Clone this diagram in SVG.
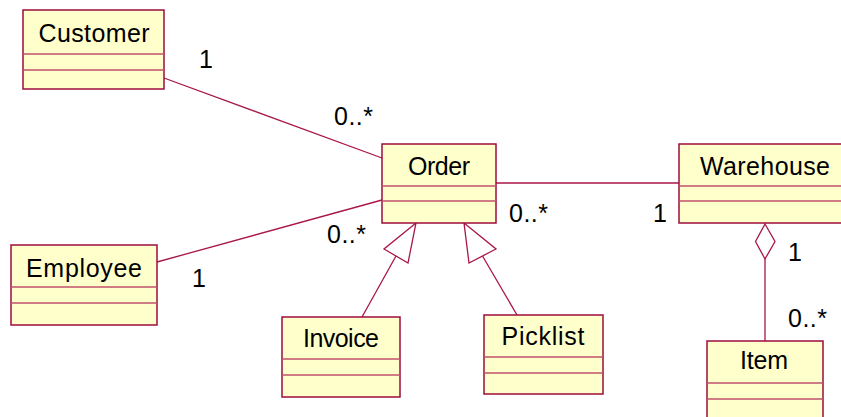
<svg xmlns="http://www.w3.org/2000/svg" width="841" height="417" viewBox="0 0 841 417">
<style>
.box{fill:#FFFFCC;stroke:#9E0B3E;stroke-width:1.5}
.div{stroke:#C0506E;stroke-width:1.5;fill:none}
.name{font-family:"Liberation Sans",Arial,sans-serif;font-size:25px;fill:#000;text-anchor:middle}
.lbl{font-family:"Liberation Sans",Arial,sans-serif;font-size:25px;fill:#000}
.conn{stroke:#A8164A;stroke-width:1.3;fill:none}
.head{stroke:#A8164A;stroke-width:1.3;fill:#fff}
</style>
<rect width="841" height="417" fill="#fff"/>
<g id="connectors">
<line class="conn" x1="164" y1="78" x2="382" y2="158"/>
<line class="conn" x1="157" y1="262" x2="382" y2="200"/>
<line class="conn" x1="496" y1="183" x2="679" y2="183"/>
<line class="conn" x1="396" y1="256" x2="362" y2="317"/>
<polygon class="head" points="416,223 384,249 408,263"/>
<line class="conn" x1="482.5" y1="256" x2="517" y2="315"/>
<polygon class="head" points="464,223 469,263 496,249"/>
<line class="conn" x1="765" y1="259" x2="765" y2="341"/>
<polygon class="head" points="765,224 755.5,241.5 765,259 775,241.5"/>
<text class="lbl" x="199" y="68">1</text>
<text class="lbl" x="334" y="125" textLength="39" lengthAdjust="spacing">0..*</text>
<text class="lbl" x="327" y="243" textLength="39" lengthAdjust="spacing">0..*</text>
<text class="lbl" x="192" y="287">1</text>
<text class="lbl" x="509" y="222" textLength="39" lengthAdjust="spacing">0..*</text>
<text class="lbl" x="653" y="222">1</text>
<text class="lbl" x="788" y="261">1</text>
<text class="lbl" x="788" y="327" textLength="39" lengthAdjust="spacing">0..*</text>
</g>
<g id="customer">
<rect class="box" x="23" y="10" width="141" height="79"/>
<line class="div" x1="23" y1="54" x2="164" y2="54"/>
<line class="div" x1="23" y1="70" x2="164" y2="70"/>
<text class="name" x="94" y="42" textLength="111" lengthAdjust="spacing">Customer</text>
</g>
<g id="order">
<rect class="box" x="382" y="144" width="114" height="79"/>
<line class="div" x1="382" y1="186" x2="496" y2="186"/>
<line class="div" x1="382" y1="201" x2="496" y2="201"/>
<text class="name" x="439" y="175" textLength="62" lengthAdjust="spacing">Order</text>
</g>
<g id="warehouse">
<rect class="box" x="679" y="144" width="172" height="79"/>
<line class="div" x1="679" y1="186" x2="851" y2="186"/>
<line class="div" x1="679" y1="201" x2="851" y2="201"/>
<text class="name" x="765" y="175" textLength="130" lengthAdjust="spacing">Warehouse</text>
</g>
<g id="employee">
<rect class="box" x="11" y="245" width="146" height="80"/>
<line class="div" x1="11" y1="287" x2="157" y2="287"/>
<line class="div" x1="11" y1="303" x2="157" y2="303"/>
<text class="name" x="84" y="277" textLength="116" lengthAdjust="spacing">Employee</text>
</g>
<g id="invoice">
<rect class="box" x="282" y="317" width="118" height="80"/>
<line class="div" x1="282" y1="359" x2="400" y2="359"/>
<line class="div" x1="282" y1="375" x2="400" y2="375"/>
<text class="name" x="341" y="347" textLength="76" lengthAdjust="spacing">Invoice</text>
</g>
<g id="picklist">
<rect class="box" x="484" y="315" width="119" height="79"/>
<line class="div" x1="484" y1="357" x2="603" y2="357"/>
<line class="div" x1="484" y1="373" x2="603" y2="373"/>
<text class="name" x="543" y="345" textLength="83" lengthAdjust="spacing">Picklist</text>
</g>
<g id="item">
<rect class="box" x="707" y="341" width="116" height="90"/>
<line class="div" x1="707" y1="383" x2="823" y2="383"/>
<line class="div" x1="707" y1="399" x2="823" y2="399"/>
<text class="name" x="764" y="369" textLength="48" lengthAdjust="spacing">Item</text>
</g>
</svg>
